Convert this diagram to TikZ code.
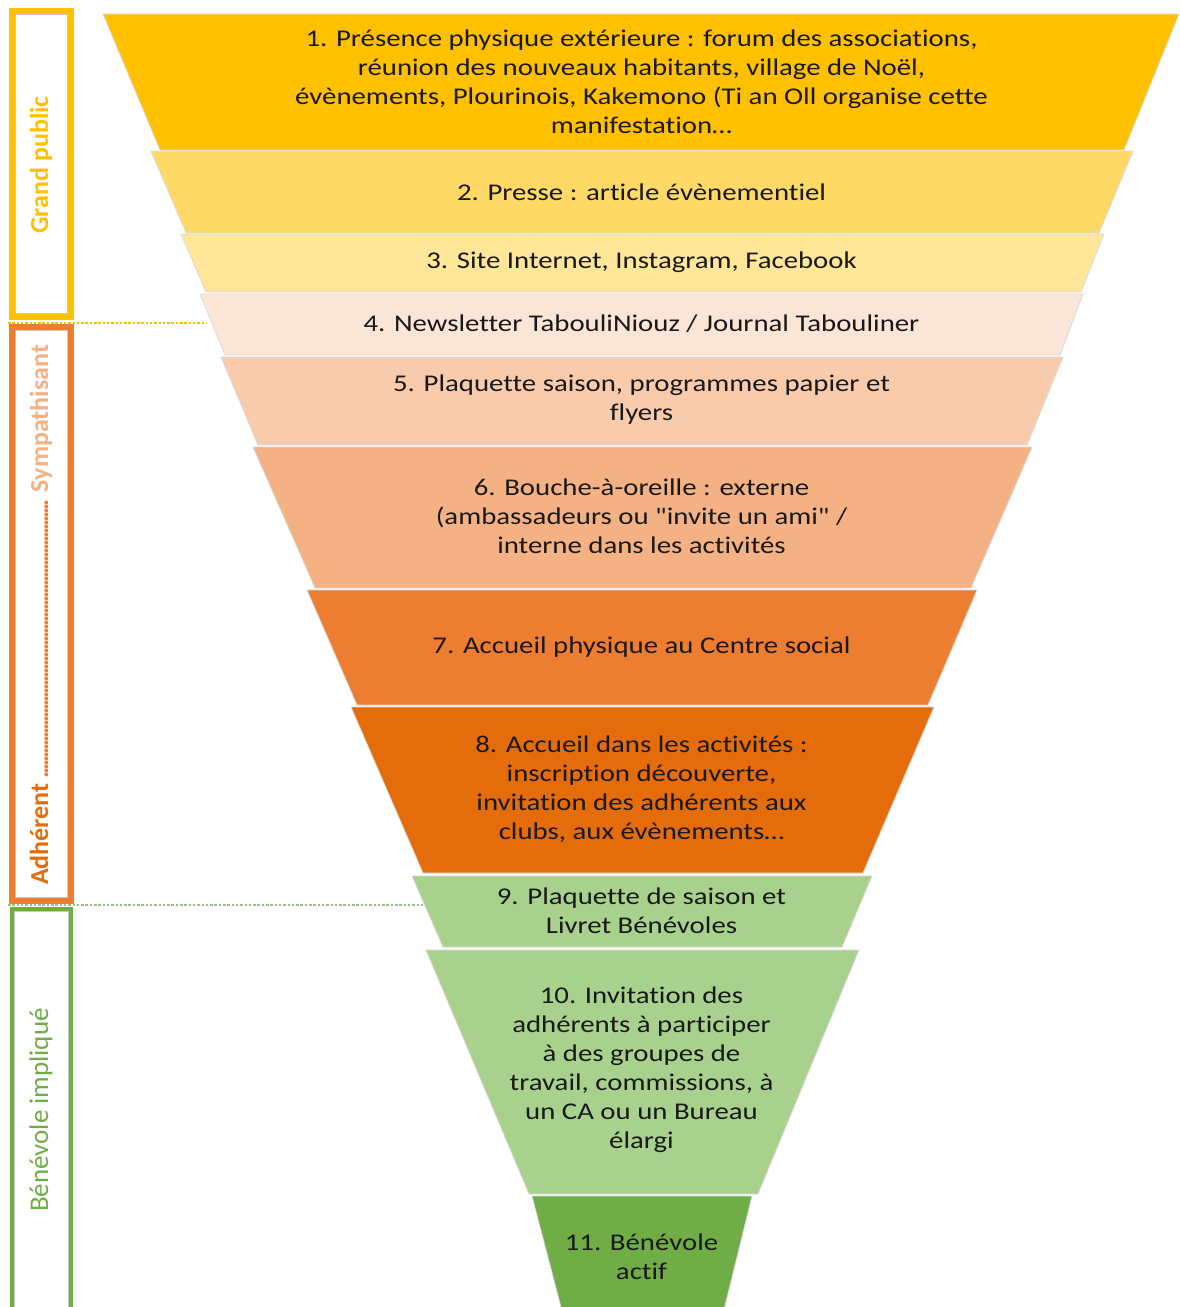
\documentclass[tikz,border=0pt]{standalone}
\usepackage{fontspec}
\setmainfont{Carlito}
\newfontfamily\lblfont[FakeStretch=1.2,Ligatures=CommonOff]{Carlito}
\definecolor{c1}{HTML}{FFC000}
\definecolor{c2}{HTML}{FFD966}
\definecolor{c3}{HTML}{FFE699}
\definecolor{c4}{HTML}{FBE5D6}
\definecolor{c5}{HTML}{F8CBAD}
\definecolor{c6}{HTML}{F4B183}
\definecolor{c7}{HTML}{ED7D31}
\definecolor{c8}{HTML}{E46C0A}
\definecolor{c9}{HTML}{A9D18E}
\definecolor{c11}{HTML}{70AD47}
\definecolor{edge}{HTML}{D9D9D9}
\newcommand{\trapz}[7]{%
  \filldraw[fill=#1,draw=edge,line width=0.8pt] (#4,#2) -- (#5,#2) -- (#7,#3) -- (#6,#3) -- cycle;}
\tikzset{
  lbl/.style={align=center,font=\lblfont\fontsize{24}{29}\selectfont,text=black!90,inner sep=0pt},
  side/.style={rotate=90,font=\fontsize{26}{30}\selectfont,inner sep=0pt},
  sidebox/.style={line width=6pt},
  inbox/.style={draw=gray!45,line width=0.6pt},
  sep/.style={line width=2.8pt,dash pattern=on 2.5pt off 1.8pt}
}
\begin{document}
\begin{tikzpicture}[x=1pt,y=-1pt]
\useasboundingbox (0,0) rectangle (1179,1307);
\clip (0,0) rectangle (1179,1307);
\fill[white] (0,0) rectangle (1179,1307);
% funnel
\trapz{c1}{14}{150}{103}{1179}{160}{1124}
\trapz{c2}{151}{233}{151}{1133}{186}{1099}
\trapz{c3}{234}{292}{181}{1104}{206}{1081}
\trapz{c4}{294}{355}{200}{1083}{225}{1060}
\trapz{c5}{357}{445}{221}{1063}{258}{1027}
\trapz{c6}{447}{588}{253}{1032}{315}{971}
\trapz{c7}{590}{705}{307}{977}{357}{928}
\trapz{c8}{707}{873}{351}{934}{423}{863}
\trapz{c9}{876}{947}{412}{872}{443}{842}
\trapz{c9}{950}{1194}{426}{859}{529}{758}
\trapz{c11}{1196}{1330}{532}{752}{567}{719}
% labels
\node[lbl] (t1) at (641.5,81.5) {1. Présence physique extérieure : forum des associations,\\réunion des nouveaux habitants, village de Noël,\\évènements, Plourinois, Kakemono (Ti an Oll organise cette\\manifestation…};
\node[lbl] (t2) at (641.5,192) {2. Presse : article évènementiel};
\node[lbl] (t3) at (641.5,262) {3. Site Internet, Instagram, Facebook};
\node[lbl] (t4) at (641.5,324) {4. Newsletter TabouliNiouz / Journal Tabouliner};
\node[lbl] (t5) at (641.5,400) {5. Plaquette saison, programmes papier et\\flyers};
\node[lbl] (t6) at (641.5,516) {6. Bouche-à-oreille : externe\\(ambassadeurs ou \char34 invite un ami\char34\ /\\interne dans les activités};
\node[lbl] (t7) at (641.5,647) {7. Accueil physique au Centre social};
\node[lbl] (t8) at (641.5,789) {8. Accueil dans les activités :\\inscription découverte,\\invitation des adhérents aux\\clubs, aux évènements…};
\node[lbl] (t9) at (641.5,911) {9. Plaquette de saison et\\Livret Bénévoles};
\node[lbl] (t10) at (641.5,1070) {10. Invitation des\\adhérents à participer\\à des groupes de\\travail, commissions, à\\un CA ou un Bureau\\élargi};
\node[lbl] (t11) at (641.5,1257) {11. Bénévole\\actif};
% side boxes
\draw[sidebox,c1] (12,11) rectangle (71,317);
\draw[inbox] (15.5,14.5) rectangle (67.5,313.5);
\draw[sidebox,c7] (12,327) rectangle (71,901);
\draw[inbox] (15.5,330.5) rectangle (67.5,897.5);
\draw[sidebox,c11,line width=4.5pt] (12,909) rectangle (71,1340);
\draw[inbox] (14.5,911.5) rectangle (68.5,1340);
% separators
\coordinate (s1a) at (8,323);
\coordinate (s1b) at (207,323);
\coordinate (s2a) at (8,905);
\coordinate (s2b) at (423,905);
\draw[sep,c1] (s1a) -- (s1b);
\draw[sep,c9!75!gray] (s2a) -- (s2b);
% side labels
\node[side,text=c1,font=\fontsize{26}{30}\selectfont\bfseries] (g1) at (41,165) {Grand public};
\node[side,anchor=west,font=\fontsize{26}{30}\selectfont\bfseries] (g2) at (41,885) {\hbox to 540pt{\color{c8}Adhérent\ \color{c7}\leaders\hbox to 4pt{\hss.\hss}\hfill\ \color{c6}Sympathisant}};
\node[side,text=c11,font=\fontsize{27}{30}\selectfont] (g3) at (41,1110) {Bénévole impliqué};
\end{tikzpicture}
\end{document}
